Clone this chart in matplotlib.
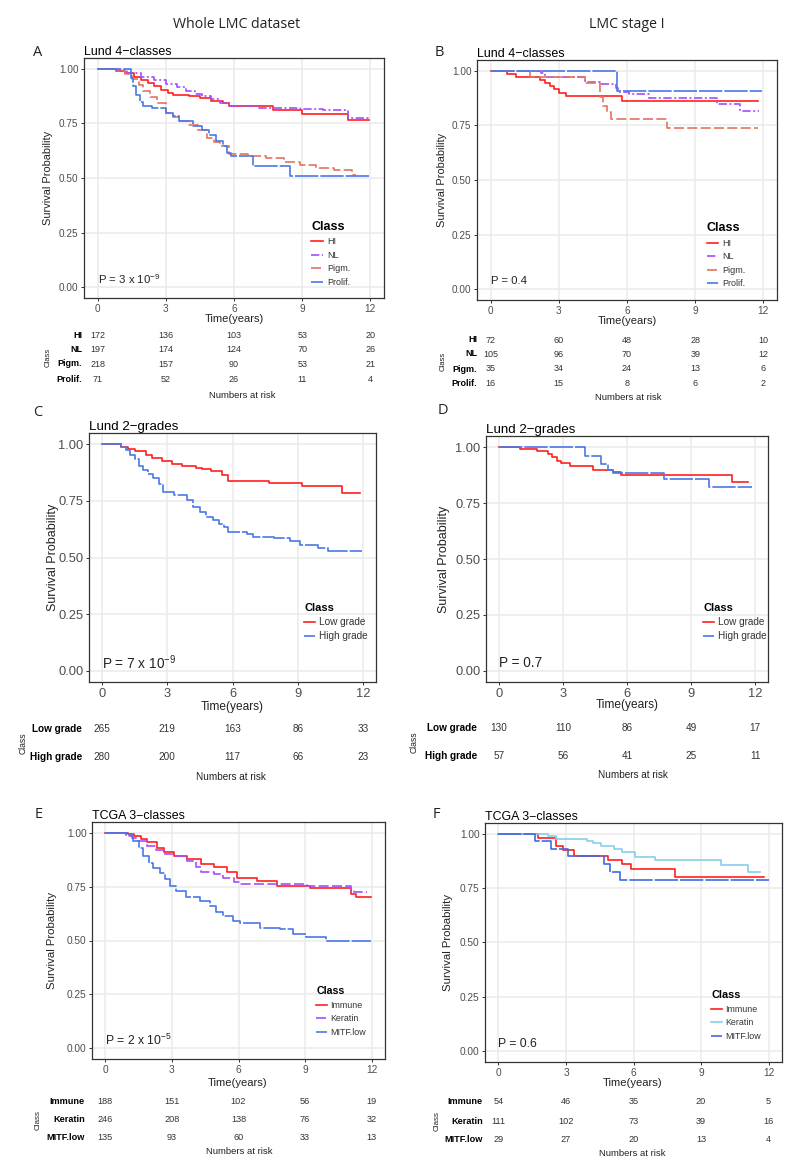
import matplotlib
matplotlib.use('Agg')
import matplotlib.pyplot as plt

plt.rcParams['font.family'] = ['Liberation Sans', 'DejaVu Sans']
plt.rcParams['mathtext.fontset'] = 'custom'
plt.rcParams['mathtext.rm'] = 'Liberation Sans'
plt.rcParams['mathtext.it'] = 'Liberation Sans'

W, H = 800, 1175

# ---------------- data ----------------
risk_times = [0, 3, 6, 9, 12]

# A: whole LMC, Lund 4-classes
A_hl_t = [0, 0.8, 1.2, 1.6, 1.9, 2.2, 2.5, 2.8, 3.1, 3.3, 4.0, 4.5, 5.0, 5.5, 5.8, 7.7, 9.0, 11.0, 11.95]
A_hl_s = [1.0, 0.99, 0.98, 0.965, 0.95, 0.935, 0.92, 0.905, 0.89, 0.88, 0.875, 0.865, 0.855, 0.845, 0.83, 0.81, 0.795, 0.765, 0.765]
A_nl_t = [0, 0.8, 1.3, 1.9, 2.5, 3.0, 3.5, 3.9, 4.3, 4.6, 5.0, 5.4, 5.8, 7.0, 8.9, 9.9, 11.0, 11.95]
A_nl_s = [1.0, 0.995, 0.98, 0.965, 0.95, 0.93, 0.915, 0.9, 0.885, 0.875, 0.86, 0.845, 0.83, 0.82, 0.815, 0.81, 0.775, 0.775]
A_pg_t = [0, 0.9, 1.2, 1.5, 1.8, 2.0, 2.3, 2.6, 3.0, 3.3, 3.6, 4.0, 4.4, 4.8, 5.1, 5.4, 5.8, 6.6, 7.4, 8.2, 8.9, 9.6, 10.4, 11.2, 11.35]
A_pg_s = [1.0, 0.99, 0.975, 0.955, 0.925, 0.9, 0.87, 0.845, 0.8, 0.78, 0.76, 0.745, 0.72, 0.685, 0.665, 0.645, 0.61, 0.6, 0.59, 0.575, 0.56, 0.548, 0.535, 0.515, 0.515]
A_pr_t = [0, 1.45, 1.55, 1.7, 1.85, 2.0, 2.4, 3.0, 3.3, 3.6, 4.2, 4.6, 4.9, 5.2, 5.5, 5.7, 5.85, 6.85, 8.45, 11.95]
A_pr_s = [1.0, 0.96, 0.92, 0.88, 0.85, 0.83, 0.82, 0.8, 0.785, 0.76, 0.74, 0.72, 0.695, 0.67, 0.645, 0.615, 0.6, 0.553, 0.508, 0.508]

# B: stage I, Lund 4-classes
B_hl_t = [0, 0.7, 1.1, 2.15, 2.4, 2.6, 2.8, 3.0, 3.3, 5.8, 11.75]
B_hl_s = [1.0, 0.985, 0.972, 0.958, 0.944, 0.93, 0.915, 0.9, 0.884, 0.864, 0.864]
B_nl_t = [0, 2.2, 2.4, 4.15, 4.8, 5.5, 5.6, 6.1, 6.95, 9.95, 10.95, 11.8]
B_nl_s = [1.0, 0.99, 0.972, 0.948, 0.94, 0.922, 0.905, 0.892, 0.876, 0.849, 0.814, 0.814]
B_pg_t = [0, 1.75, 4.15, 4.8, 4.95, 5.1, 5.3, 7.75, 11.75]
B_pg_s = [1.0, 0.972, 0.944, 0.88, 0.84, 0.81, 0.778, 0.737, 0.737]
B_pr_t = [0, 5.55, 11.95]
B_pr_s = [1.0, 0.909, 0.909]

# C: whole LMC, Lund 2-grades
C_low_t = [0, 0.85, 1.2, 1.5, 2.0, 2.3, 2.75, 3.2, 3.7, 4.3, 4.6, 5.0, 5.5, 5.8, 7.7, 9.2, 11.05, 11.85]
C_low_s = [1.0, 0.99, 0.98, 0.97, 0.955, 0.94, 0.925, 0.915, 0.905, 0.895, 0.89, 0.88, 0.865, 0.84, 0.83, 0.815, 0.785, 0.785]
C_high_t = [0, 0.85, 1.1, 1.3, 1.5, 1.7, 1.9, 2.1, 2.35, 2.6, 2.8, 3.3, 3.9, 4.2, 4.5, 4.8, 5.1, 5.4, 5.6, 5.8, 6.65, 6.95, 7.9, 8.65, 9.1, 9.95, 10.4, 11.95]
C_high_s = [1.0, 0.99, 0.975, 0.955, 0.935, 0.905, 0.885, 0.87, 0.85, 0.825, 0.79, 0.775, 0.755, 0.725, 0.7, 0.68, 0.665, 0.65, 0.635, 0.612, 0.605, 0.59, 0.584, 0.574, 0.555, 0.54, 0.53, 0.53]

# D: stage I, Lund 2-grades
D_low_t = [0, 1.0, 1.8, 2.3, 2.5, 2.7, 2.9, 3.35, 4.4, 5.35, 5.7, 10.9, 11.65]
D_low_s = [1.0, 0.993, 0.985, 0.97, 0.955, 0.94, 0.93, 0.915, 0.9, 0.89, 0.875, 0.845, 0.845]
D_high_t = [0, 4.05, 4.8, 5.1, 5.35, 7.75, 9.85, 11.85]
D_high_s = [1.0, 0.96, 0.925, 0.9, 0.884, 0.857, 0.82, 0.82]

# E: whole LMC, TCGA 3-classes
E_imm_t = [0, 1.0, 1.3, 1.6, 1.9, 2.35, 2.65, 3.1, 3.7, 4.3, 4.9, 5.5, 5.95, 6.85, 7.75, 9.2, 11.05, 11.3, 11.95]
E_imm_s = [1.0, 0.995, 0.985, 0.97, 0.955, 0.93, 0.91, 0.893, 0.877, 0.855, 0.84, 0.816, 0.79, 0.777, 0.755, 0.742, 0.718, 0.702, 0.702]
E_ker_t = [0, 0.95, 1.2, 1.45, 1.9, 2.3, 2.65, 3.1, 3.7, 4.1, 4.3, 4.9, 5.3, 5.8, 6.1, 7.75, 9.1, 11.05, 11.2, 11.8]
E_ker_s = [1.0, 0.985, 0.975, 0.962, 0.94, 0.92, 0.9, 0.89, 0.87, 0.84, 0.816, 0.81, 0.79, 0.77, 0.762, 0.76, 0.755, 0.735, 0.724, 0.724]
E_mitf_t = [0, 0.95, 1.25, 1.5, 1.7, 1.95, 2.15, 2.45, 2.7, 2.9, 3.2, 3.65, 4.25, 4.7, 5.0, 5.3, 5.75, 6.05, 6.95, 7.85, 8.45, 9.05, 9.95, 11.97]
E_mitf_s = [1.0, 0.99, 0.96, 0.93, 0.89, 0.86, 0.838, 0.815, 0.785, 0.753, 0.73, 0.702, 0.684, 0.66, 0.63, 0.614, 0.591, 0.583, 0.56, 0.552, 0.532, 0.517, 0.498, 0.498]

# F: stage I, TCGA 3-classes
F_imm_t = [0, 1.75, 2.55, 2.85, 3.35, 4.85, 5.5, 5.9, 7.85, 11.8]
F_imm_s = [1.0, 0.982, 0.944, 0.928, 0.9, 0.882, 0.86, 0.837, 0.802, 0.802]
F_ker_t = [0, 2.2, 2.55, 3.95, 4.2, 4.55, 5.15, 5.5, 6.05, 6.95, 9.9, 11.1, 11.6]
F_ker_s = [1.0, 0.99, 0.975, 0.966, 0.956, 0.944, 0.93, 0.918, 0.895, 0.88, 0.855, 0.826, 0.826]
F_mitf_t = [0, 1.6, 2.35, 3.1, 4.7, 4.95, 5.4, 12.0]
F_mitf_s = [1.0, 0.966, 0.93, 0.898, 0.86, 0.825, 0.786, 0.786]

lund4_classes = ['HI', 'NL', 'Pigm.', 'Prolif.']
grade_classes = ['Low grade', 'High grade']
tcga_classes = ['Immune', 'Keratin', 'MITF.low']

A_risk = [[172, 136, 103, 53, 20], [197, 174, 124, 70, 26], [218, 157, 90, 53, 21], [71, 52, 26, 11, 4]]
B_risk = [[72, 60, 48, 28, 10], [105, 96, 70, 39, 12], [35, 34, 24, 13, 6], [16, 15, 8, 6, 2]]
C_risk = [[265, 219, 163, 86, 33], [280, 200, 117, 66, 23]]
D_risk = [[130, 110, 86, 49, 17], [57, 56, 41, 25, 11]]
E_risk = [[188, 151, 102, 56, 19], [246, 208, 138, 76, 32], [135, 93, 60, 33, 13]]
F_risk = [[54, 46, 35, 20, 5], [111, 102, 73, 39, 16], [29, 27, 20, 13, 4]]

p_texts = {'A': 'P = 3 x 10$^{-9}$', 'B': 'P = 0.4', 'C': 'P = 7 x 10$^{-9}$',
           'D': 'P = 0.7', 'E': 'P = 2 x 10$^{-5}$', 'F': 'P = 0.6'}

# ---------------- styles ----------------
RED = '#FF1F1F'
PURPLE = '#A64DFF'
SALMON = '#E2735F'
BLUE = '#4A78E8'
SKY = '#87CEEB'
ROYAL = '#4169E1'
SOLID = '-'
DASHDOT = (0, (5, 1.5, 1.2, 1.5))
DASHED = (0, (6, 2))
LONGDASH = (0, (14, 1.2))

fig = plt.figure(figsize=(W / 100, H / 100), dpi=100)


def px_box(l, t, r, b):
    return [l / W, 1 - b / H, (r - l) / W, (b - t) / H]


def ftext(x, y, s, **kw):
    fig.text(x / W, 1 - y / H, s, **kw)


def km_panel(box, curves, title, ptxt, fs, leg_xy, leg_fs):
    ax = fig.add_axes(px_box(*box))
    for lab, t, s, col, ls in curves:
        ax.step(t, s, where='post', color=col, lw=1.2, ls=ls, label=lab)
    ax.set_xlim(-0.6, 12.6)
    ax.set_ylim(-0.05, 1.05)
    ax.set_xticks(risk_times)
    ax.set_yticks([0, 0.25, 0.5, 0.75, 1.0])
    ax.set_yticklabels(['0.00', '0.25', '0.50', '0.75', '1.00'])
    ax.grid(True, color='#EBEBEB', lw=1.1)
    ax.set_axisbelow(True)
    for sp in ax.spines.values():
        sp.set_color('#333333')
        sp.set_linewidth(0.9)
    ax.tick_params(length=2.5, width=0.7, color='#333333', labelcolor='#4D4D4D',
                   labelsize=fs['tick'], pad=1.5)
    ax.set_title(title, loc='left', fontsize=fs['title'], pad=1.5)
    ax.text(0, 0.035, ptxt, fontsize=fs['p'], va='center', ha='left', color='#222222')
    leg = ax.legend(title='Class', loc='upper left', bbox_to_anchor=leg_xy, frameon=False,
                    borderpad=0, handlelength=leg_fs[2], handletextpad=0.4,
                    labelspacing=leg_fs[3], fontsize=leg_fs[1],
                    title_fontproperties={'weight': 'bold', 'size': leg_fs[0]},
                    alignment='left')
    for txt in leg.get_texts():
        txt.set_color('#333333')
    return ax


def risk_table(box_lr, rows_y, classes, counts, fs, lab_right):
    l, r = box_lr
    ax = fig.add_axes(px_box(l, rows_y[0], r, rows_y[-1]))
    ax.set_xlim(-0.6, 12.6)
    n = len(classes)
    ax.set_ylim(n - 1, 0)
    ax.axis('off')
    for i, row in enumerate(counts):
        for t, c in zip(risk_times, row):
            ax.text(t, i, str(c), ha='center', va='center', fontsize=fs, color='#333333')
    for cls, y in zip(classes, rows_y):
        ftext(lab_right, y, cls, ha='right', va='center', fontsize=fs, fontweight='bold')
    return ax


# ---------------- panels ----------------
small = dict(tick=7.2, title=9, p=8.2)
big = dict(tick=9.3, title=9.6, p=9.8)
mid = dict(tick=7.3, title=8.9, p=8.8)

km_panel((84, 58, 384, 298),
         [('HI', A_hl_t, A_hl_s, RED, SOLID), ('NL', A_nl_t, A_nl_s, PURPLE, DASHDOT),
          ('Pigm.', A_pg_t, A_pg_s, SALMON, DASHED), ('Prolif.', A_pr_t, A_pr_s, BLUE, LONGDASH)],
         'Lund 4\u2212classes', p_texts['A'], small, (0.743, 0.34), (9, 6.5, 1.3, 0.5))
km_panel((477, 60, 777, 300),
         [('HI', B_hl_t, B_hl_s, RED, SOLID), ('NL', B_nl_t, B_nl_s, PURPLE, DASHDOT),
          ('Pigm.', B_pg_t, B_pg_s, SALMON, DASHED), ('Prolif.', B_pr_t, B_pr_s, BLUE, LONGDASH)],
         'Lund 4\u2212classes', p_texts['B'], small, (0.75, 0.342), (9, 6.5, 1.3, 0.5))
km_panel((89, 433, 376, 682),
         [('Low grade', C_low_t, C_low_s, RED, SOLID), ('High grade', C_high_t, C_high_s, BLUE, LONGDASH)],
         'Lund 2\u2212grades', p_texts['C'], big, (0.732, 0.337), (8, 7.2, 1.1, 0.4))
km_panel((486, 436, 768, 682),
         [('Low grade', D_low_t, D_low_s, RED, SOLID), ('High grade', D_high_t, D_high_s, BLUE, LONGDASH)],
         'Lund 2\u2212grades', p_texts['D'], big, (0.752, 0.341), (8, 7.2, 1.1, 0.4))
km_panel((92, 822, 385, 1059),
         [('Immune', E_imm_t, E_imm_s, RED, SOLID), ('Keratin', E_ker_t, E_ker_s, PURPLE, DASHED),
          ('MITF.low', E_mitf_t, E_mitf_s, BLUE, LONGDASH)],
         'TCGA 3\u2212classes', p_texts['E'], mid, (0.751, 0.325), (7.7, 6.4, 1.15, 0.5))
km_panel((485, 823, 782, 1062),
         [('Immune', F_imm_t, F_imm_s, RED, SOLID), ('Keratin', F_ker_t, F_ker_s, SKY, SOLID),
          ('MITF.low', F_mitf_t, F_mitf_s, ROYAL, LONGDASH)],
         'TCGA 3\u2212classes', p_texts['F'], mid, (0.747, 0.318), (7.8, 6.4, 1.15, 0.5))

# risk tables
risk_table((84, 384), [335, 349, 364, 379], lund4_classes, A_risk, 6.5, 82)
risk_table((477, 777), [340, 354, 369, 383], lund4_classes, B_risk, 6.5, 477)
risk_table((89, 376), [729, 757], grade_classes, C_risk, 7.2, 82)
risk_table((486, 768), [728, 756], grade_classes, D_risk, 7.2, 477)
risk_table((92, 385), [1101, 1120, 1138], tcga_classes, E_risk, 6.6, 85)
risk_table((485, 782), [1102, 1121, 1140], tcga_classes, F_risk, 6.6, 483)

# axis labels drawn as figure text
lab_col = '#222222'
for x, y, fs in [(48, 178, 7.9), (442, 180, 7.9), (53, 557, 9), (444, 559, 9), (52, 940, 8.2), (448, 942, 8.2)]:
    ftext(x, y, 'Survival Probability', rotation=90, ha='center', va='center', fontsize=fs, color=lab_col)
for x, y, fs in [(234, 319, 8), (627, 321, 8), (232, 707, 8.6), (627, 705, 8.6), (238, 1083, 8.1), (633, 1083, 8.1)]:
    ftext(x, y, 'Time(years)', ha='center', va='center', fontsize=fs, color=lab_col)
for x, y, fs in [(242, 396, 6.8), (628, 397, 6.8), (231, 777, 7.2), (633, 775, 7.2), (239, 1152, 6.8), (632, 1153, 6.8)]:
    ftext(x, y, 'Numbers at risk', ha='center', va='center', fontsize=fs, color=lab_col)
for x, y, fs in [(48, 357, 5.5), (443, 361, 5.5), (23, 743, 6.2), (414, 742, 6.2), (38, 1120, 5.8), (437, 1121, 5.8)]:
    ftext(x, y, 'Class', rotation=90, ha='center', va='center', fontsize=fs, color=lab_col)

# panel letters and column headers
for lab, x, y in [('A', 38, 52), ('B', 439, 52), ('C', 38, 413), ('D', 443, 410), ('E', 39, 815), ('F', 436, 815)]:
    ftext(x, y, lab, ha='center', va='center', fontsize=10.5, family='Open Sans', color='#222222')
ftext(237, 25, 'Whole LMC dataset', ha='center', va='center', fontsize=10.2, family='Open Sans', color='#222222')
ftext(627, 25, 'LMC stage I', ha='center', va='center', fontsize=10.2, family='Open Sans', color='#222222')

fig.savefig('out.png', dpi=100)
